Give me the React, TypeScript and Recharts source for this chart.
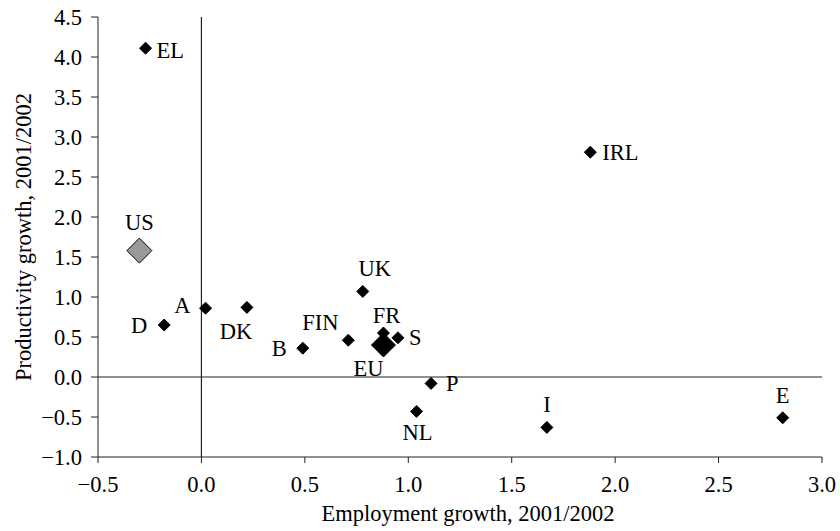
import React from 'react';
import { ScatterChart, Scatter, XAxis, YAxis, ReferenceLine, Label } from 'recharts';

const COUNTRIES = ['EL', 'US', 'D', 'A', 'DK', 'B', 'FIN', 'UK', 'FR', 'EU', 'S', 'P', 'NL', 'I', 'E', 'IRL'];
const EMPLOYMENT = [-0.27, -0.3, -0.18, 0.02, 0.22, 0.49, 0.71, 0.78, 0.88, 0.88, 0.95, 1.11, 1.04, 1.67, 2.81, 1.88];
const PRODUCTIVITY = [4.11, 1.58, 0.65, 0.86, 0.87, 0.36, 0.46, 1.07, 0.55, 0.4, 0.49, -0.08, -0.43, -0.63, -0.51, 2.81];
const X_TICKS = [-0.5, 0, 0.5, 1, 1.5, 2, 2.5, 3];
const Y_TICKS = [-1, -0.5, 0, 0.5, 1, 1.5, 2, 2.5, 3, 3.5, 4, 4.5];

const FONT = 'Liberation Serif';
const FS = 22.5;

// where each country label sits relative to its marker
const LABEL_POS: Record<string, [number, number, 'start' | 'middle' | 'end']> = {
  EL: [11, 2, 'start'],
  US: [0, -28, 'middle'],
  D: [-17, 0, 'end'],
  A: [-15, -3, 'end'],
  DK: [-11, 24, 'middle'],
  B: [-16, 0, 'end'],
  FIN: [-28, -18, 'middle'],
  UK: [12, -23, 'middle'],
  FR: [3, -18, 'middle'],
  EU: [-15, 23, 'middle'],
  S: [11, 0, 'start'],
  P: [15, 0, 'start'],
  NL: [1, 21, 'middle'],
  I: [0, -23, 'middle'],
  E: [0, -22, 'middle'],
  IRL: [12, 0, 'start'],
};

const points = COUNTRIES.map((name, i) => ({ name, x: EMPLOYMENT[i], y: PRODUCTIVITY[i] }));
const smallPts = points.filter(p => p.name !== 'US' && p.name !== 'EU');
const usPts = points.filter(p => p.name === 'US');
const euPts = points.filter(p => p.name === 'EU');

const fmt = (v: number) => {
  const s = Math.abs(v).toFixed(1);
  return v < 0 ? '\u2212' + s : s;
};

const diamond = (r: number, fill: string) => (props: any) => {
  const { cx, cy, payload } = props;
  const pos = LABEL_POS[payload.name] || [0, -20, 'middle'];
  return (
    <g>
      <polygon
        points={`${cx},${cy - r} ${cx + r},${cy} ${cx},${cy + r} ${cx - r},${cy}`}
        fill={fill}
        stroke="#000"
        strokeWidth={1}
      />
      <text
        x={cx + pos[0]}
        y={cy + pos[1]}
        textAnchor={pos[2]}
        dominantBaseline="central"
        style={{ fontFamily: FONT, fontSize: FS }}
        fill="#000"
      >
        {payload.name}
      </text>
    </g>
  );
};

export default function App() {
  return (
    <div style={{ width: 840, height: 531, background: '#fff', fontFamily: FONT }}>
      <style>{`body{margin:0} svg text{font-family:'Liberation Serif',serif}`}</style>
      <ScatterChart width={840} height={531} margin={{ top: 17, right: 18, left: 0, bottom: 13 }}>
        <XAxis
          type="number"
          dataKey="x"
          domain={[-0.5, 3]}
          ticks={X_TICKS}
          tickFormatter={fmt}
          height={61}
          stroke="#222"
          tickSize={6}
          tickMargin={13}
          tick={{ fill: '#000', fontSize: FS }}
          allowDataOverflow
        >
          <Label
            value="Employment growth, 2001/2002"
            position="insideBottom"
            offset={-3}
            dx={8}
            style={{ fill: '#000', fontSize: FS }}
          />
        </XAxis>
        <YAxis
          type="number"
          dataKey="y"
          domain={[-1, 4.5]}
          ticks={Y_TICKS}
          tickFormatter={fmt}
          width={98}
          stroke="#222"
          tickSize={7}
          tickMargin={9}
          tick={{ fill: '#000', fontSize: FS }}
          allowDataOverflow
        >
          <Label
            value="Productivity growth, 2001/2002"
            angle={-90}
            position="insideLeft"
            offset={23}
            style={{ fill: '#000', fontSize: FS, textAnchor: 'middle' }}
          />
        </YAxis>
        <ReferenceLine x={0} stroke="#222" strokeWidth={1.2} />
        <ReferenceLine y={0} stroke="#222" strokeWidth={1.2} />
        <Scatter data={euPts} shape={diamond(12, '#000')} isAnimationActive={false} />
        <Scatter data={smallPts} shape={diamond(6, '#000')} isAnimationActive={false} />
        <Scatter data={usPts} shape={diamond(12.5, '#999')} isAnimationActive={false} />
      </ScatterChart>
    </div>
  );
}
